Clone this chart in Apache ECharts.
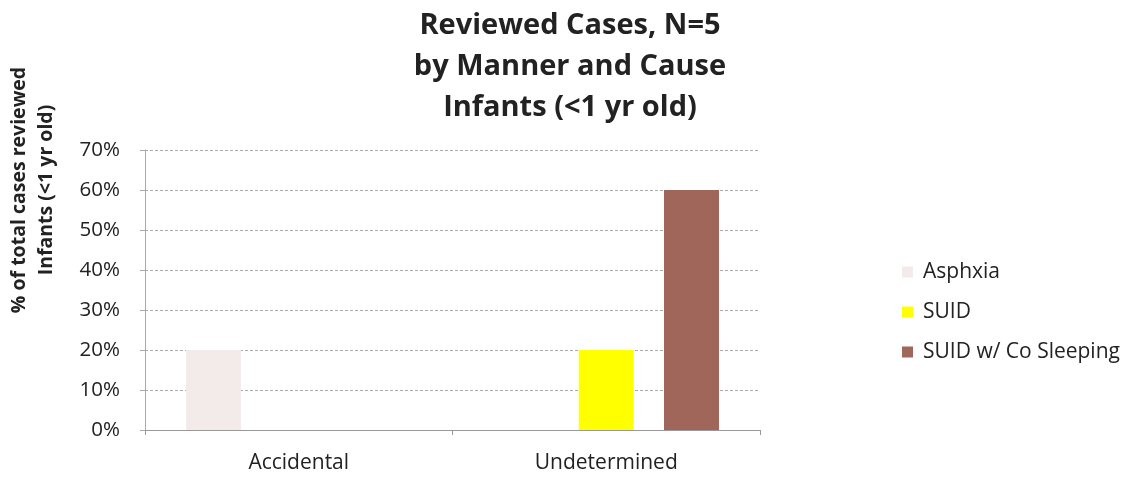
<!DOCTYPE html>
<html>
<head>
<meta charset="utf-8">
<script src="https://cdn.jsdelivr.net/npm/echarts@6/dist/echarts.min.js"></script>
<style>
  html, body { margin: 0; padding: 0; background: #fff; }
  #chart { width: 1133px; height: 477px; }
</style>
</head>
<body>
<div id="chart"></div>
<script>
// data
const categories = ['Accidental', 'Undetermined']
const seriesNames = ['Asphxia', 'SUID', 'SUID w/ Co Sleeping']
const asphxia = [20, null]
const suid = [null, 20]
const coSleeping = [null, 60]
const colors = ['#f2ebe9', '#ffff00', '#a0665a']

const chart = echarts.init(document.getElementById('chart'))
const font = '"Open Sans", Lato, sans-serif'
const barWidth = 55

const option = {
  backgroundColor: '#fff',
  textStyle: { fontFamily: font },
  title: {
    text: 'Reviewed Cases, N=5\nby Manner and Cause\nInfants (<1 yr old)',
    left: 565,
    top: 0,
    textAlign: 'center',
    textStyle: {
      fontFamily: font,
      fontSize: 29,
      fontWeight: 'bold',
      color: '#222',
      lineHeight: 41
    }
  },
  // y axis title sits above the middle of the plot, so it is drawn as a rotated text
  graphic: [{
    type: 'text',
    x: 33,
    y: 190,
    rotation: Math.PI / 2,
    style: {
      text: '% of total cases reviewed\nInfants (<1 yr old)',
      font: 'bold 19.5px ' + font,
      fill: '#222',
      align: 'center',
      verticalAlign: 'middle',
      lineHeight: 27
    }
  }],
  legend: {
    data: seriesNames,
    orient: 'vertical',
    left: 897,
    top: 256,
    itemWidth: 11,
    itemHeight: 11,
    itemGap: 18,
    icon: 'rect',
    textStyle: { fontFamily: font, fontSize: 21, color: '#222', lineHeight: 22, padding: [0, 0, 0, 5] }
  },
  grid: {
    left: 145,
    right: 373,
    top: 150,
    bottom: 47
  },
  xAxis: {
    type: 'category',
    data: categories,
    axisLine: { show: true, lineStyle: { color: '#999', width: 1 } },
    axisTick: { show: true, length: 5, lineStyle: { color: '#999' } },
    axisLabel: { fontFamily: font, fontSize: 21, color: '#222', margin: 23 }
  },
  yAxis: {
    type: 'value',
    min: 0,
    max: 70,
    interval: 10,
    axisLine: { show: true, lineStyle: { color: '#aaa', width: 1 } },
    axisTick: { show: true, length: 5, lineStyle: { color: '#aaa' } },
    axisLabel: {
      fontFamily: font,
      fontSize: 20.5,
      color: '#222',
      margin: 25,
      formatter: '{value}%'
    },
    splitLine: { show: true, lineStyle: { color: '#aaa', type: [3, 2], width: 1 } }
  },
  series: [
    { name: seriesNames[0], type: 'bar', data: asphxia, barWidth: barWidth, barGap: '55%', itemStyle: { color: colors[0] } },
    { name: seriesNames[1], type: 'bar', data: suid, barWidth: barWidth, barGap: '55%', itemStyle: { color: colors[1] } },
    { name: seriesNames[2], type: 'bar', data: coSleeping, barWidth: barWidth, barGap: '55%', itemStyle: { color: colors[2] } }
  ]
}

chart.setOption(option)
</script>
</body>
</html>
